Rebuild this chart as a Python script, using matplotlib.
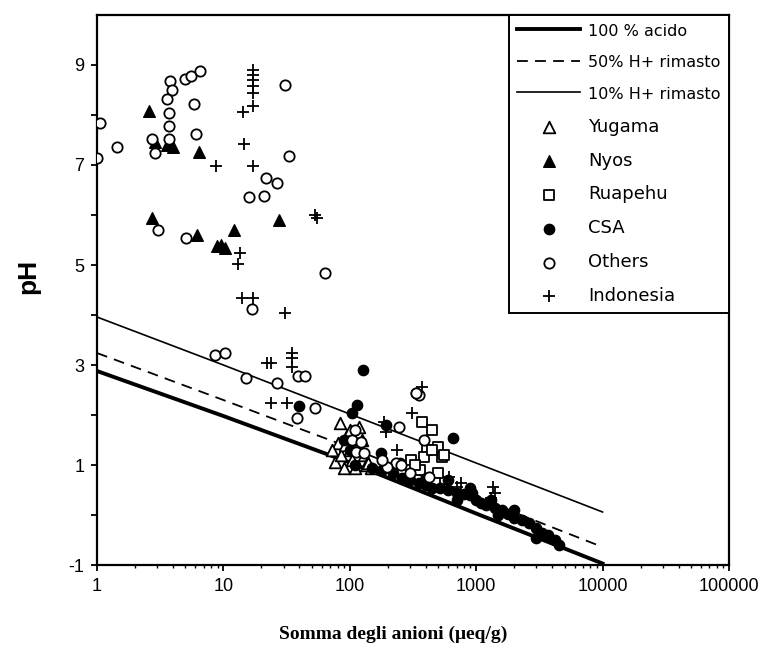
import numpy as np
import matplotlib
matplotlib.use('Agg')
from matplotlib import pyplot as plt

### reference lines (pH vs sum of anions)
line_x = [1, 10, 100, 1000, 10000]
acid100_ph = [2.88, 1.98, 1.05, 0.03, -0.97]
h50_ph = [3.24, 2.30, 1.35, 0.35, -0.64]
h10_ph = [3.96, 3.00, 2.02, 1.04, 0.06]

### samples
yugama_x = [76, 85, 80, 83, 95, 100, 105, 110, 119, 125, 130, 148, 90, 115, 135, 100, 92, 72, 140]
yugama_ph = [1.06, 1.2, 1.45, 1.84, 1.6, 1.3, 1.1, 0.94, 1.76, 1.5, 1.2, 0.94, 0.95, 1.35, 1.0, 1.7, 1.4, 1.3, 1.05]

nyos_x = [2.58, 3.98, 6.4, 2.72, 6.16, 8.86, 10.3, 12.1, 27.3, 2.9, 9.5, 3.6]
nyos_ph = [8.08, 7.36, 7.26, 5.94, 5.6, 5.38, 5.34, 5.7, 5.9, 7.45, 5.4, 7.4]

ruapehu_x = [375, 450, 495, 540, 410, 390, 306, 450, 560, 360, 500, 420, 470, 330]
ruapehu_ph = [1.86, 1.7, 1.36, 1.16, 1.3, 1.16, 1.1, 1.3, 1.2, 0.9, 0.85, 0.7, 0.65, 1.0]

csa_x = [128, 115, 40, 650, 337, 195, 178, 90, 100, 110, 105,
         150, 180, 220, 260, 300, 350, 400, 450, 520, 600, 700, 800, 900,
         1000, 1100, 1200, 1400, 1600, 1800, 2000, 2300, 2600, 3000, 3300,
         3700, 4200, 4500, 3000, 2000, 1300, 900, 600, 400, 250, 700, 1500, 930, 1260]
csa_ph = [2.9, 2.2, 2.18, 1.54, 2.44, 1.8, 1.24, 1.5, 1.3, 1.0, 2.05,
          0.95, 0.9, 0.85, 0.75, 0.7, 0.65, 0.6, 0.55, 0.55, 0.5, 0.45, 0.42, 0.4,
          0.3, 0.25, 0.2, 0.15, 0.1, 0.02, -0.05, -0.1, -0.15, -0.25, -0.35,
          -0.4, -0.5, -0.6, -0.45, 0.1, 0.3, 0.55, 0.7, 0.75, 1.05, 0.3, 0.0, 0.44, 0.24]

others_x = [1.06, 1.0, 1.44, 2.72, 2.87, 3.77, 3.9, 3.57, 3.7, 3.7, 3.7, 4.95, 5.54, 6.5,
            5.83, 6.05, 30.6, 32.8, 21.6, 26.4, 15.9, 20.8, 3.03, 5.04, 64.1, 16.7,
            8.55, 10.3, 15.0, 26.4, 38.6, 44.0, 52.8, 38.0, 246, 350,
            105, 123, 113, 130, 233, 198, 256, 390, 425, 337, 300, 180, 110]
others_ph = [7.84, 7.14, 7.36, 7.52, 7.24, 8.68, 8.5, 8.32, 8.04, 7.78, 7.52, 8.72, 8.78, 8.88,
             8.22, 7.62, 8.6, 7.18, 6.74, 6.64, 6.36, 6.38, 5.7, 5.54, 4.84, 4.12,
             3.2, 3.24, 2.74, 2.64, 2.78, 2.78, 2.14, 1.94, 1.76, 2.4,
             1.5, 1.46, 1.26, 1.24, 1.04, 0.96, 1.0, 1.5, 0.76, 2.44, 0.85, 1.1, 1.7]

indo_x = [17, 17, 17, 17, 17, 17, 14.2, 14.5, 8.7, 17, 52.8, 55.5, 13.5, 13.0, 14, 17, 30.6,
          22, 24, 35, 35, 34.7, 24, 31.6, 185, 195, 238, 313, 375, 614, 708, 760,
          1350, 1400, 1300]
indo_ph = [8.9, 8.8, 8.7, 8.58, 8.44, 8.18, 8.06, 7.42, 6.98, 6.98, 6.0, 5.94, 5.24, 5.02, 4.34, 4.34, 4.04,
           3.04, 3.04, 3.24, 3.14, 2.96, 2.24, 2.24, 1.86, 1.66, 1.3, 2.04, 2.56, 0.76, 0.56, 0.64,
           0.56, 0.44, 0.35]

### plot
fig = plt.figure(figsize=(7.74, 6.49), dpi=100)
ax = fig.add_axes([0.1253, 0.1294, 0.8165, 0.8475])

ax.plot(line_x, acid100_ph, 'k-', lw=2.8, label='100 % acido')
ax.plot(line_x, h50_ph, 'k--', lw=1.3, dashes=(6, 4), label='50% H+ rimasto')
ax.plot(line_x, h10_ph, 'k-', lw=1.2, label='10% H+ rimasto')

ms = 55
ax.scatter(yugama_x, yugama_ph, s=70, marker='^', facecolors='white', edgecolors='k', linewidths=1.3, label='Yugama', zorder=3)
ax.scatter(nyos_x, nyos_ph, s=70, marker='^', color='k', label='Nyos', zorder=3)
ax.scatter(ruapehu_x, ruapehu_ph, s=55, marker='s', facecolors='white', edgecolors='k', linewidths=1.3, label='Ruapehu', zorder=3)
ax.scatter(csa_x, csa_ph, s=ms, marker='o', color='k', label='CSA', zorder=3)
ax.scatter(others_x, others_ph, s=ms, marker='o', facecolors='white', edgecolors='k', linewidths=1.3, label='Others', zorder=4)
ax.scatter(indo_x, indo_ph, s=65, marker='+', color='k', linewidths=1.3, label='Indonesia', zorder=4)

ax.set_xscale('log')
ax.set_xlim(1, 100000)
ax.set_ylim(-1, 10)
ax.set_xticks([1, 10, 100, 1000, 10000, 100000])
ax.set_xticklabels(['1', '10', '100', '1000', '10000', '100000'])
ax.set_yticks(range(-1, 10))
ax.set_yticklabels([str(v) if v % 2 else '' for v in range(-1, 10)])
ax.tick_params(which='major', direction='out', length=4, width=1.3, labelsize=13)
ax.tick_params(axis='x', which='major', pad=5)
ax.tick_params(axis='y', which='major', pad=5)
ax.tick_params(which='minor', direction='out', length=2.5, width=1.0)
for lab in ax.get_xticklabels() + ax.get_yticklabels():
    lab.set_family('Liberation Sans')
for sp in ax.spines.values():
    sp.set_linewidth(1.6)

ax.set_ylabel('pH', family='Liberation Sans', fontsize=19, fontweight='bold')
ax.yaxis.set_label_coords(-0.09, 0.524)
ax.set_xlabel('Somma degli anioni (μeq/g)', family='Liberation Serif', fontsize=14, fontweight='bold')
ax.xaxis.set_label_coords(0.468, -0.11)

leg = ax.legend(loc='upper right', borderaxespad=0, fancybox=False, edgecolor='k',
                framealpha=1, handlelength=3.5, labelspacing=0.88, fontsize=13,
                borderpad=0.45, handletextpad=0.45, scatterpoints=1,
                prop={'family': 'DejaVu Sans', 'size': 13})
leg.get_frame().set_linewidth(1.4)
for i, t in enumerate(leg.get_texts()):
    if i < 3:
        t.set_fontsize(11.5)

fig.savefig('out.png', dpi=100)
